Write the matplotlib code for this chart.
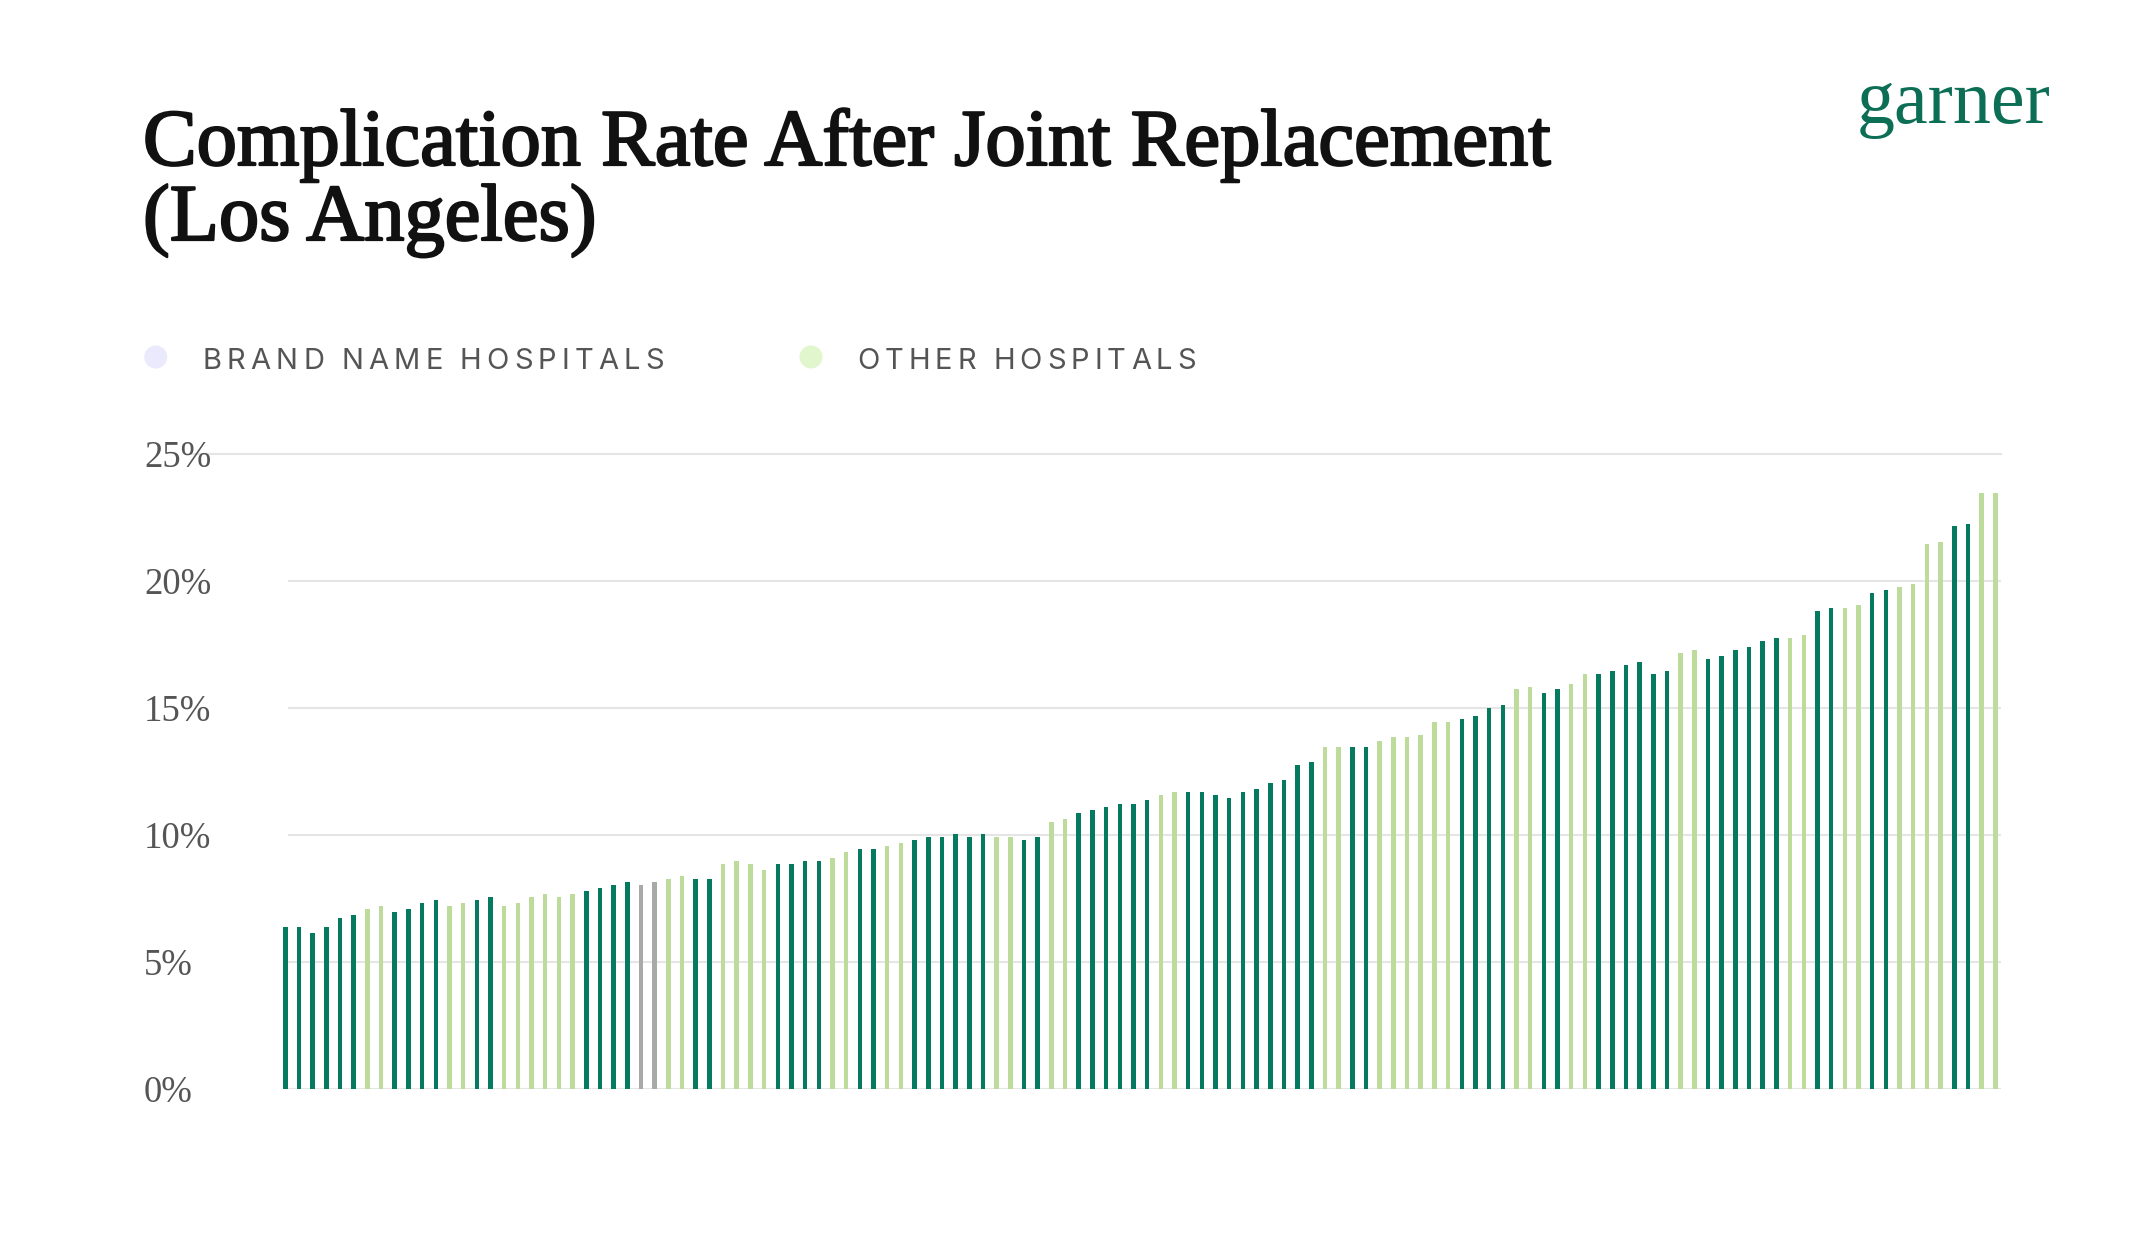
import matplotlib
matplotlib.use("Agg")
import matplotlib.pyplot as plt
import matplotlib.transforms as mtransforms
import matplotlib.patheffects as pe
from matplotlib.patches import Ellipse
import numpy as np

# valori (rata complicatiilor, %)
rates = [
    6.38, 6.38, 6.14, 6.38, 6.73, 6.85, 7.09, 7.20, 6.97, 7.09,
    7.32, 7.44, 7.20, 7.32, 7.44, 7.56, 7.20, 7.32, 7.56, 7.68,
    7.56, 7.68, 7.80, 7.91, 8.03, 8.15, 8.03, 8.15, 8.27, 8.39,
    8.27, 8.27, 8.86, 8.99, 8.87, 8.63, 8.87, 8.87, 8.99, 8.99,
    9.11, 9.34, 9.46, 9.46, 9.58, 9.70, 9.82, 9.93, 9.93, 10.05,
    9.93, 10.05, 9.93, 9.93, 9.82, 9.93, 10.53, 10.64, 10.88, 11.00,
    11.12, 11.24, 11.24, 11.36, 11.59, 11.71, 11.71, 11.71, 11.59, 11.47,
    11.71, 11.83, 12.05, 12.17, 12.77, 12.89, 13.48, 13.48, 13.48, 13.48,
    13.72, 13.84, 13.84, 13.95, 14.43, 14.43, 14.55, 14.67, 15.01, 15.13,
    15.73, 15.84, 15.61, 15.73, 15.96, 16.32, 16.32, 16.45, 16.69, 16.81,
    16.34, 16.45, 17.16, 17.29, 16.94, 17.05, 17.29, 17.40, 17.65, 17.76,
    17.76, 17.87, 18.82, 18.94, 18.94, 19.06, 19.53, 19.65, 19.77, 19.89,
    21.44, 21.55, 22.15, 22.26, 23.45, 23.45,
]

# D = brand name, L = other, G = fara date
groups = list(
    "DDDDDDLLDDDDLLDDLLLLLLDDDDGGLLDDL"
    "LLLDDDDLLDDLLDDDDDDLLDDLLDDDDDDL"
    "LDDDDDDDDDDLLDDLLLLLLDDDDLLDDLLD"
    "DDDDDLLDDDDDDLLDDLLDDLLLLDDLL"
)

yticks = [0, 5, 10, 15, 20, 25]
ytick_labels = ["0%", "5%", "10%", "15%", "20%", "25%"]

legend_labels = ["BRAND NAME HOSPITALS", "OTHER HOSPITALS"]
legend_dots = ["#ebe9fc", "#e1f6cd"]

title_lines = ["Complication Rate After Joint Replacement", "(Los Angeles)"]

bar_colors = {"D": "#067a5f", "L": "#bddc9b", "G": "#a9a9a9"}

W, H = 2142, 1254
fig = plt.figure(figsize=(W / 100, H / 100), dpi=100)
fig.patch.set_facecolor("white")
r = fig.canvas.get_renderer()

serif = "Liberation Serif"
sans = "Inter"

# axa: centrul primei bare la 285.3 px, pas 13.68 px
step = 13.68
x_first = 285.3
n = len(rates)
left_px = x_first - 0.5 * step
right_px = x_first + (n - 0.5) * step
y0_px, y25_px = 1089, 454
ax = fig.add_axes([left_px / W, 1 - y0_px / H, (right_px - left_px) / W, (y0_px - y25_px) / H])
ax.set_xlim(-0.5, n - 0.5)
ax.set_ylim(0, 25)
ax.axis("off")

x = np.arange(n)
ax.bar(x, rates, width=0.33, color=[bar_colors[g] for g in groups], linewidth=0, zorder=2)

grid_c = "#e5e5e5"
ax.hlines(yticks[:-1], 0.2, n - 0.6, color=grid_c, lw=1.5, zorder=1)
ax.plot([(192 - x_first) / step, n - 0.6], [25, 25], color=grid_c, lw=1.5, zorder=1, clip_on=False)

# etichete axa y
tr = mtransforms.blended_transform_factory(fig.transFigure, ax.transData)
tr = tr + mtransforms.ScaledTranslation(0, -13 / 100, fig.dpi_scale_trans)
for v, lab in zip(yticks, ytick_labels):
    ax.text(144 / W, v, lab, transform=tr, ha="left", va="baseline",
            fontsize=26.5, family=serif, color="#555555", zorder=3)


def fit_text(x_px, y_px, s, width_px, size, **kw):
    t = fig.text(x_px / W, 1 - y_px / H, s, fontsize=size, va="baseline", ha="left", **kw)
    w = t.get_window_extent(r).width
    t.set_fontsize(size * width_px / w)
    return t


# titlu
bold = [pe.withStroke(linewidth=1.6, foreground="#111111")]
t1 = fit_text(143, 165, title_lines[0], 1409, 50, family=serif, color="#111111",
              path_effects=bold)
fig.text(143 / W, 1 - 240 / H, title_lines[1], fontsize=t1.get_fontsize(), va="baseline",
         ha="left", family=serif, color="#111111", path_effects=bold)

# logo
fit_text(1857, 123, "garner", 194, 55, family=serif, color="#0b6e55")


def spaced(x_px, y_px, s, end_px, **kw):
    chars = []
    widths = []
    for ch in s:
        t = fig.text(0, 0, ch if ch != " " else "I", va="baseline", ha="left", **kw)
        w = t.get_window_extent(r).width
        if ch == " ":
            t.set_text(" ")
            w = w * 0.9
        chars.append(t)
        widths.append(w)
    track = (end_px - x_px - sum(widths)) / (len(s) - 1)
    cx = x_px
    for t, w in zip(chars, widths):
        t.set_position((cx / W, 1 - y_px / H))
        cx += w + track


legend_x = [(155.7, 202.7, 664), (811, 857, 1196)]
for (dx, tx, ex), lab, dc in zip(legend_x, legend_labels, legend_dots):
    fig.add_artist(Ellipse((dx / W, 1 - 357 / H), 23 / W, 23 / H, transform=fig.transFigure,
                           color=dc, lw=0))
    spaced(tx, 369, lab, ex, fontsize=21, family=sans, color="#555555")

fig.savefig("out.png", dpi=100, facecolor="white")
